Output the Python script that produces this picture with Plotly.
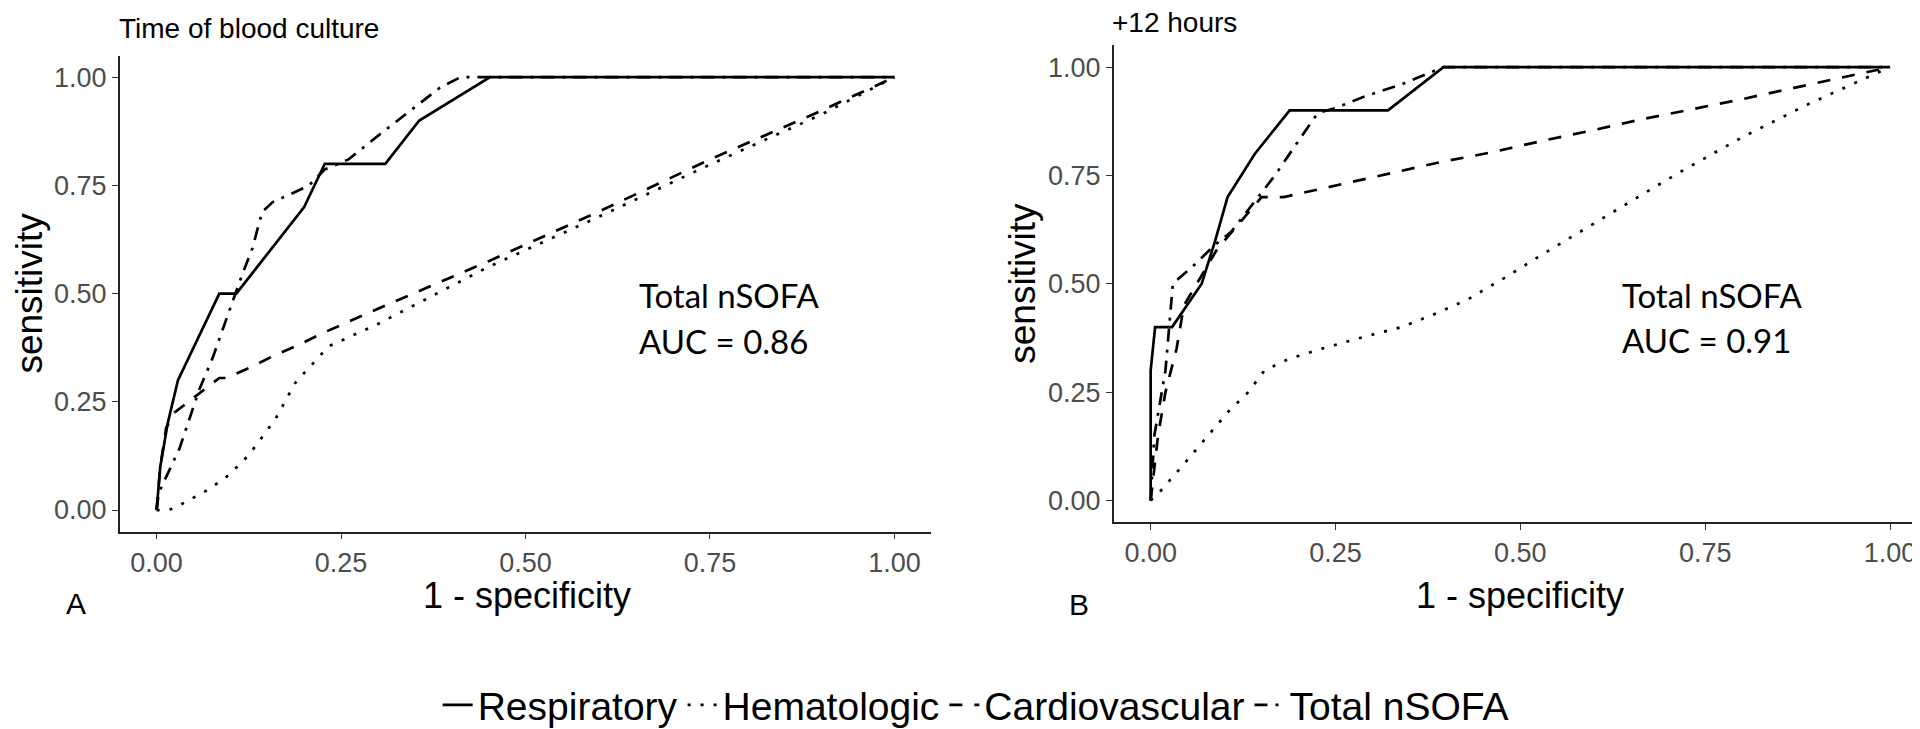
import plotly.graph_objects as go

W, H = 1920, 729

# ---------------- data ----------------
series_names = ["Respiratory", "Hematologic", "Cardiovascular", "Total nSOFA"]
tick_vals = [0, 0.25, 0.5, 0.75, 1.0]
tick_text = ["0.00", "0.25", "0.50", "0.75", "1.00"]

# Panel A: Time of blood culture
A_resp_x = [0, 0.005, 0.01, 0.015, 0.029, 0.085, 0.108, 0.20, 0.228, 0.31, 0.356, 0.452, 1.0]
A_resp_y = [0, 0.10, 0.15, 0.20, 0.30, 0.50, 0.50, 0.70, 0.80, 0.80, 0.90, 1.0, 1.0]

A_hema_x = [0, 0.017, 0.03, 0.071, 0.098, 0.125, 0.161, 0.188, 0.233, 0.30, 0.45, 0.60, 0.75, 0.90, 1.0]
A_hema_y = [0, 0.0, 0.01, 0.048, 0.081, 0.127, 0.21, 0.294, 0.378, 0.43, 0.562, 0.678, 0.798, 0.913, 1.0]

A_card_x = [0, 0.005, 0.013, 0.024, 0.085, 0.094, 0.125, 0.157, 0.192, 0.224, 0.30, 0.45, 0.60, 0.75, 0.90, 1.0]
A_card_y = [0, 0.10, 0.19, 0.225, 0.305, 0.305, 0.328, 0.355, 0.381, 0.408, 0.465, 0.575, 0.69, 0.81, 0.922, 1.0]

A_total_x = [0, 0.003, 0.014, 0.031, 0.043, 0.058, 0.075, 0.094, 0.116, 0.13, 0.143, 0.157, 0.206, 0.228, 0.26, 0.304, 0.345, 0.385, 0.412, 1.0]
A_total_y = [0, 0.04, 0.08, 0.142, 0.203, 0.279, 0.347, 0.438, 0.544, 0.605, 0.689, 0.711, 0.749, 0.787, 0.81, 0.87, 0.925, 0.977, 1.0, 1.0]

# Panel B: +12 hours
B_resp_x = [0, 0.0, 0.006, 0.029, 0.069, 0.087, 0.104, 0.141, 0.188, 0.321, 0.396, 1.0]
B_resp_y = [0, 0.30, 0.40, 0.40, 0.50, 0.598, 0.70, 0.80, 0.90, 0.90, 1.0, 1.0]

B_hema_x = [0, 0.014, 0.041, 0.078, 0.105, 0.132, 0.154, 0.186, 0.231, 0.294, 0.339, 0.384, 0.43, 0.48, 0.53, 0.62, 0.71, 0.80, 0.89, 1.0]
B_hema_y = [0, 0.023, 0.076, 0.15, 0.205, 0.25, 0.30, 0.326, 0.35, 0.38, 0.40, 0.43, 0.465, 0.515, 0.568, 0.66, 0.752, 0.838, 0.915, 1.0]

B_card_x = [0, 0.01, 0.02, 0.035, 0.045, 0.09, 0.12, 0.15, 0.18, 0.25, 0.32, 0.39, 0.46, 0.53, 0.60, 0.66, 0.73, 0.80, 0.87, 0.94, 1.0]
B_card_y = [0, 0.15, 0.25, 0.35, 0.45, 0.58, 0.64, 0.70, 0.70, 0.727, 0.754, 0.78, 0.803, 0.83, 0.855, 0.878, 0.902, 0.926, 0.952, 0.977, 1.0]

B_total_x = [0, 0.005, 0.02, 0.03, 0.06, 0.087, 0.109, 0.141, 0.168, 0.204, 0.226, 0.249, 0.294, 0.339, 0.396, 1.0]
B_total_y = [0, 0.15, 0.30, 0.50, 0.545, 0.59, 0.62, 0.69, 0.75, 0.84, 0.894, 0.905, 0.935, 0.96, 1.0, 1.0]

# ---------------- styles ----------------
dashes = {
    "Respiratory": "solid",
    "Hematologic": "3px,10px",
    "Cardiovascular": "13px,12px",
    "Total nSOFA": "13px,8px,3px,8px",
}
LW = 2.7


def px_x(p):
    return p / W


def px_y(p):
    return 1 - p / H


fig = go.Figure()

panels = [
    ("x", "y", [(A_resp_x, A_resp_y), (A_hema_x, A_hema_y), (A_card_x, A_card_y), (A_total_x, A_total_y)], True),
    ("x2", "y2", [(B_resp_x, B_resp_y), (B_hema_x, B_hema_y), (B_card_x, B_card_y), (B_total_x, B_total_y)], False),
]
for xa, ya, data, show in panels:
    for name, (xs, ys) in zip(series_names, data):
        fig.add_trace(go.Scatter(
            x=xs, y=ys, mode="lines", name=name, xaxis=xa, yaxis=ya,
            line=dict(color="black", width=LW, dash=dashes[name]),
            showlegend=show, legendgroup=name, hoverinfo="skip",
        ))

axis_common = dict(
    range=[-0.05, 1.05], showgrid=False, zeroline=False,
    showline=True, linecolor="#222222", linewidth=1.6,
    ticks="outside", ticklen=6, tickwidth=1.4, tickcolor="#333333",
    tickvals=tick_vals, ticktext=tick_text,
    tickfont=dict(family="Liberation Sans, Arial", size=27, color="#4D4D4D"),
)

fig.update_layout(
    width=W, height=H, autosize=False,
    margin=dict(l=0, r=0, t=0, b=0),
    paper_bgcolor="white", plot_bgcolor="white",
    xaxis=dict(domain=[px_x(111.7), px_x(923.3)], anchor="y", **axis_common),
    yaxis=dict(domain=[px_y(531.7), px_y(48.3)], anchor="x", **axis_common),
    xaxis2=dict(domain=[px_x(1105.7), px_x(1919.0)], anchor="y2", **axis_common),
    yaxis2=dict(domain=[px_y(522), px_y(38)], anchor="x2", **axis_common),
    legend=dict(
        orientation="h", x=0.504, xanchor="center", y=px_y(708), yanchor="middle",
        font=dict(family="Liberation Sans, Arial", size=39, color="black"),
        itemwidth=30, tracegroupgap=0, bgcolor="rgba(0,0,0,0)",
    ),
    showlegend=True,
)

sans = "Liberation Sans, Arial"
ann = []
# panel titles
ann.append(dict(text="Time of blood culture", x=px_x(109), y=px_y(21), xanchor="left", yanchor="middle",
                font=dict(family=sans, size=28, color="black")))
ann.append(dict(text="+12 hours", x=px_x(1102), y=px_y(15), xanchor="left", yanchor="middle",
                font=dict(family=sans, size=28, color="black")))
# axis titles
for cx, cy in [(519, 596), (1512, 597)]:
    ann.append(dict(text="1 - specificity", x=px_x(cx), y=px_y(cy), xanchor="center", yanchor="middle",
                    font=dict(family=sans, size=36, color="black")))
for cx, cy in [(22, 290), (1015, 280)]:
    ann.append(dict(text="sensitivity", x=px_x(cx), y=px_y(cy), xanchor="center", yanchor="middle",
                    textangle=-90, font=dict(family=sans, size=37, color="black")))
# panel letters
ann.append(dict(text="A", x=px_x(68), y=px_y(605), xanchor="center", yanchor="middle",
                font=dict(family=sans, size=30, color="black")))
ann.append(dict(text="B", x=px_x(1071), y=px_y(606), xanchor="center", yanchor="middle",
                font=dict(family=sans, size=30, color="black")))
# AUC annotations
auc_font = dict(family="Lato, Carlito, Calibri, sans-serif", size=33, color="black")
for lx, y1, y2, auc in [(629, 291.7, 338.3, "AUC = 0.86"), (1612, 291.7, 336.7, "AUC = 0.91")]:
    ann.append(dict(text="Total nSOFA", x=px_x(lx), y=px_y(y1), xanchor="left", yanchor="middle", font=auc_font))
    ann.append(dict(text=auc, x=px_x(lx), y=px_y(y2), xanchor="left", yanchor="middle", font=auc_font))

for a in ann:
    a.update(xref="paper", yref="paper", showarrow=False)
fig.update_layout(annotations=ann)

fig.write_html("out.html")
